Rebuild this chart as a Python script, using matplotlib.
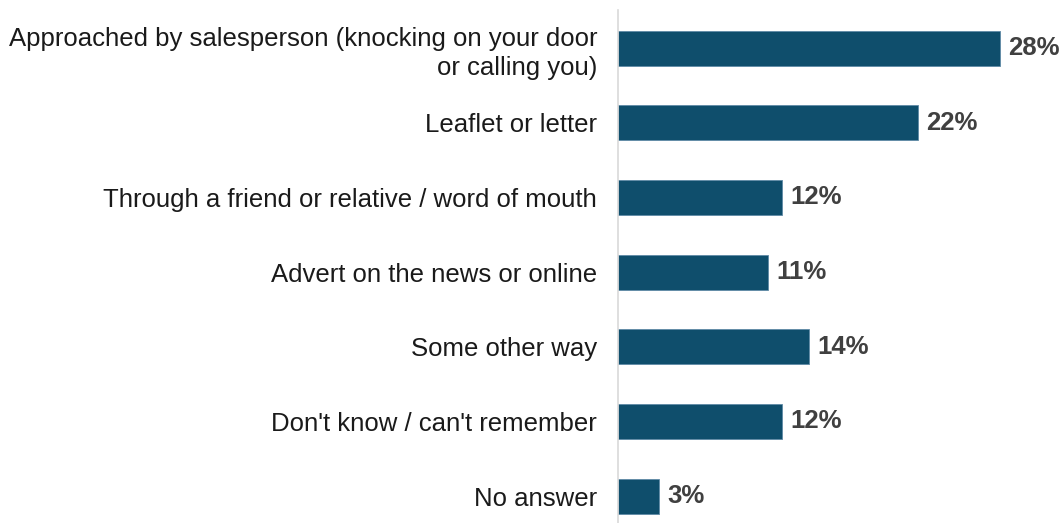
import matplotlib.pyplot as plt

# survey responses: how people first heard about it
categories = [
    "Approached by salesperson (knocking on your door\nor calling you)",
    "Leaflet or letter",
    "Through a friend or relative / word of mouth",
    "Advert on the news or online",
    "Some other way",
    "Don't know / can't remember",
    "No answer",
]
shares = [28, 22, 12, 11, 14, 12, 3]
value_labels = ["28%", "22%", "12%", "11%", "14%", "12%", "3%"]

bar_color = "#0F4E6C"
plt.rcParams["font.family"] = ["Liberation Sans", "DejaVu Sans"]

fig = plt.figure(figsize=(10.63, 5.23), dpi=100)
ax = fig.add_axes([618 / 1063, 0, 1 - 618 / 1063, 513 / 523])

ypos = list(range(len(categories)))
ax.barh(ypos, shares, height=0.47, color=bar_color, edgecolor="#5F8AA6", linewidth=0.6)

for y, v, lab in zip(ypos, shares, value_labels):
    ax.text(v + 0.6, y, lab, va="center", ha="left", fontsize=18.5,
            fontweight="bold", color="#404040")

ax.set_yticks(ypos)
ax.set_yticklabels(categories, fontsize=18.5, color="#1a1a1a", linespacing=1.3)
ax.tick_params(axis="y", length=0, pad=15)
ax.set_xticks([])
ax.set_xlim(0, 32.6)
ax.set_ylim(6.36, -0.51)

for side in ["top", "right", "bottom"]:
    ax.spines[side].set_visible(False)
ax.spines["left"].set_color("#D9D9D9")
ax.spines["left"].set_linewidth(1.2)

fig.savefig("out.png", dpi=100)
